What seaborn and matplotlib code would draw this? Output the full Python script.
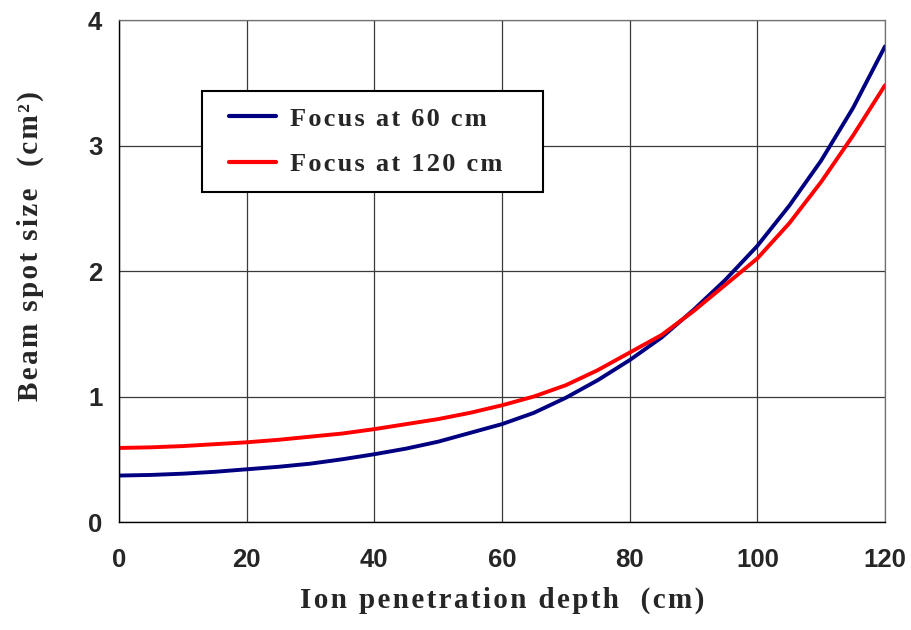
import matplotlib
matplotlib.use("Agg")
import matplotlib.pyplot as plt
import pandas as pd
import seaborn as sns
from matplotlib.legend_handler import HandlerLine2D
from matplotlib.lines import Line2D
from matplotlib.ticker import MultipleLocator

depth = [0, 5, 10, 15, 20, 25, 30, 35, 40, 45, 50, 55, 60,
         65, 70, 75, 80, 85, 90, 95, 100, 105, 110, 115, 120]
focus_60 = [0.37, 0.375, 0.385, 0.40, 0.42, 0.44, 0.465, 0.50, 0.54, 0.585,
            0.64, 0.71, 0.78, 0.87, 0.99, 1.13, 1.29, 1.47, 1.69, 1.93,
            2.20, 2.52, 2.88, 3.30, 3.79]
focus_120 = [0.59, 0.595, 0.605, 0.62, 0.635, 0.655, 0.68, 0.705, 0.74, 0.78,
             0.82, 0.87, 0.93, 1.00, 1.09, 1.21, 1.35, 1.49, 1.68, 1.89,
             2.10, 2.38, 2.71, 3.08, 3.48]
series_names = ["Focus at 60 cm", "Focus at 120 cm"]
colors = ["#000080", "#ff0000"]


def spaced(s):
    # the original uses letter-spaced bold Times; hair spaces fake it
    return "\u200a".join(s)


df = pd.concat([
    pd.DataFrame({"depth": depth, "size": focus_60, "series": series_names[0]}),
    pd.DataFrame({"depth": depth, "size": focus_120, "series": series_names[1]}),
])

sns.set_style("white")
plt.rcParams["font.family"] = ["Liberation Sans", "DejaVu Sans"]

fig = plt.figure(figsize=(9.11, 6.3), dpi=100)
ax = fig.add_axes([119 / 911, 108 / 630, 766 / 911, 502 / 630])

sns.lineplot(
    data=df, x="depth", y="size", hue="series",
    palette=dict(zip(series_names, colors)),
    linewidth=2.8, ax=ax,
)

ax.set_xlim(0, 120)
ax.set_ylim(0, 4)
ax.xaxis.set_major_locator(MultipleLocator(20))
ax.xaxis.set_minor_locator(MultipleLocator(10))
ax.yaxis.set_major_locator(MultipleLocator(1))
ax.yaxis.set_minor_locator(MultipleLocator(0.5))
ax.grid(True, which="major", color="#3a3a3a", linewidth=0.9)
ax.set_axisbelow(True)

for side in ["top", "right"]:
    ax.spines[side].set_color("#707070")
    ax.spines[side].set_linewidth(0.9)
for side in ["left", "bottom"]:
    ax.spines[side].set_color("black")
    ax.spines[side].set_linewidth(1.0)

ax.tick_params(which="major", direction="out", length=7, width=1, color="black",
               labelsize=18.5)
ax.tick_params(which="minor", direction="in", length=4, width=1, color="black")
ax.tick_params(axis="x", which="major", pad=12)
ax.tick_params(axis="y", which="major", pad=5)
for lab in ax.get_xticklabels() + ax.get_yticklabels():
    lab.set_fontweight("bold")

serif = ["Liberation Serif", "DejaVu Serif"]
ax.set_xlabel(spaced("Ion penetration depth  (cm)"), family=serif,
              fontweight="bold", fontsize=21)
ax.set_ylabel(spaced("Beam spot size  (cm²)"), family=serif,
              fontweight="bold", fontsize=21)
ax.xaxis.set_label_coords(0.5, -0.128)
ax.yaxis.set_label_coords(-0.098, 0.55)

handles, labels = ax.get_legend_handles_labels()
leg = ax.legend(
    handles, [spaced(t) + "   \u200a\u200a" for t in labels],
    loc="upper left", bbox_to_anchor=(0.108, 0.858), borderaxespad=0,
    frameon=True, fancybox=False, framealpha=1, edgecolor="black",
    prop={"family": serif, "weight": "bold", "size": 19},
    handlelength=2.2, handletextpad=0.55, borderpad=0.6, labelspacing=0.85,
    handler_map={Line2D: HandlerLine2D(xpad=0.45)},
)
leg.get_frame().set_linewidth(1.5)
for line in leg.get_lines():
    line.set_linewidth(3.0)

fig.savefig("out.png", dpi=100)
